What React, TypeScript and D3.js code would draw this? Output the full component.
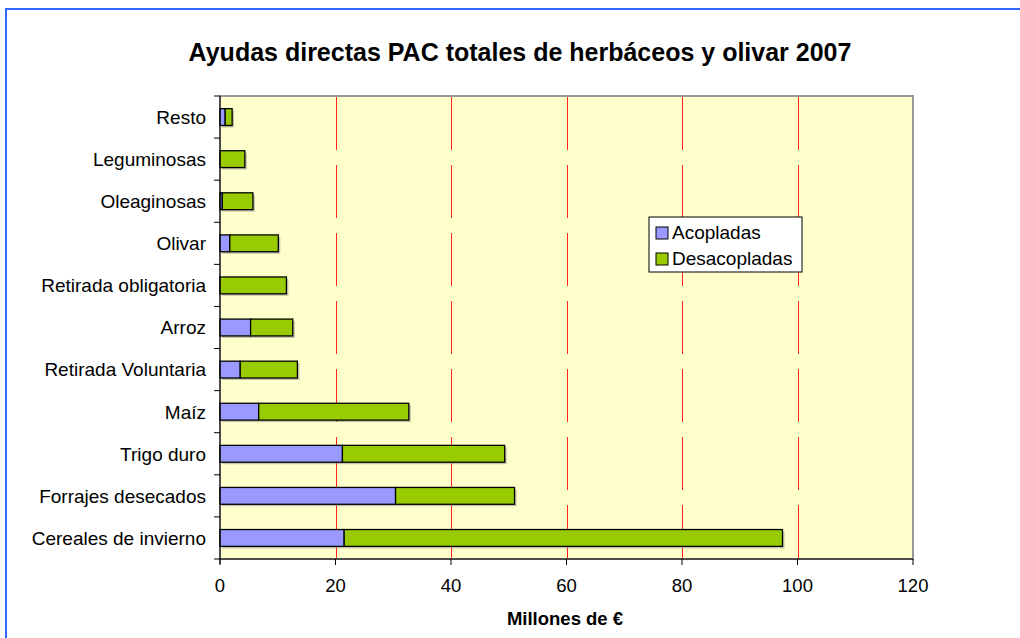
import React, { useEffect, useRef } from 'react';
import * as d3 from 'd3';

// categorias de abajo hacia arriba
const categories = [
  'Cereales de invierno',
  'Forrajes desecados',
  'Trigo duro',
  'Maíz',
  'Retirada Voluntaria ',
  'Arroz',
  'Retirada obligatoria',
  'Olivar',
  'Oleaginosas',
  'Leguminosas',
  'Resto',
];
const acopladas = [21.5, 30.4, 21.2, 6.7, 3.5, 5.3, 0, 1.7, 0.4, 0, 0.9];
const desacopladas = [75.9, 20.6, 28.1, 26.0, 9.9, 7.3, 11.5, 8.4, 5.3, 4.3, 1.2];
const xTicks = [0, 20, 40, 60, 80, 100, 120];
const seriesNames = ['Acopladas', 'Desacopladas'];
const seriesColors = ['#9999FF', '#99CC00'];

const W = 1020;
const H = 638;
const FONT = 'Liberation Sans, Arial, sans-serif';

export default function App() {
  const ref = useRef<SVGSVGElement>(null);

  useEffect(() => {
    const svg = d3.select(ref.current);
    svg.selectAll('*').remove();

    const left = 220, right = 913, top = 96, bottom = 559;

    // marco azul
    svg.append('rect')
      .attr('x', 6).attr('y', 9)
      .attr('width', W).attr('height', H)
      .attr('fill', '#fff')
      .attr('stroke', '#3366FF')
      .attr('stroke-width', 2);

    svg.append('text')
      .attr('x', 520).attr('y', 61)
      .attr('text-anchor', 'middle')
      .attr('font-family', FONT)
      .attr('font-weight', 'bold')
      .attr('font-size', 25)
      .text('Ayudas directas PAC totales de herbáceos y olivar 2007');

    const x = d3.scaleLinear().domain([0, 120]).range([left, right]);
    const y = d3.scaleBand().domain(categories.slice().reverse()).range([top, bottom]).paddingInner(0.6).paddingOuter(0.3);
    const yOuter = d3.scaleBand().domain(categories.slice().reverse()).range([top, bottom]);
    const crisp = (v: number) => Math.round(v) + 0.5;

    // area del grafico
    svg.append('rect')
      .attr('x', left).attr('y', top)
      .attr('width', right - left).attr('height', bottom - top)
      .attr('fill', '#FFFFCC')
      .attr('stroke', '#999')
      .attr('stroke-width', 2);

    // lineas de division
    svg.append('g').selectAll('line')
      .data(xTicks.filter(t => t > 0 && t < 120))
      .enter().append('line')
      .attr('x1', d => crisp(x(d))).attr('x2', d => crisp(x(d)))
      .attr('y1', top + 1).attr('y2', bottom)
      .attr('stroke', '#FF2020')
      .attr('stroke-width', 1)
      .attr('stroke-dasharray', '53,15');

    // barras apiladas
    const stackData = categories.map((c, i) => ({ cat: c, a: acopladas[i], d: desacopladas[i] }));
    const stack = d3.stack<any>().keys(['a', 'd'])(stackData);
    const bh = y.bandwidth();

    stack.forEach((layer) => {
      // sombra
      svg.append('g').selectAll('rect')
        .data(layer.filter(d => d[1] - d[0] > 0))
        .enter().append('rect')
        .attr('x', d => x(d[0]) + 2)
        .attr('y', d => (y(d.data.cat) as number) + 2)
        .attr('width', d => x(d[1]) - x(d[0]))
        .attr('height', bh)
        .attr('fill', '#888')
        .attr('opacity', 0.5);
    });
    stack.forEach((layer, li) => {
      svg.append('g').selectAll('rect')
        .data(layer.filter(d => d[1] - d[0] > 0))
        .enter().append('rect')
        .attr('x', d => x(d[0]))
        .attr('y', d => y(d.data.cat) as number)
        .attr('width', d => x(d[1]) - x(d[0]))
        .attr('height', bh)
        .attr('fill', seriesColors[li])
        .attr('stroke', '#000')
        .attr('stroke-width', 1.3);
    });

    // eje Y
    svg.append('line')
      .attr('x1', left).attr('x2', left)
      .attr('y1', top).attr('y2', bottom + 5)
      .attr('stroke', '#000');
    const bounds = categories.map((c) => (yOuter(c) as number));
    bounds.push(bottom);
    svg.append('g').selectAll('line')
      .data(bounds)
      .enter().append('line')
      .attr('x1', left - 6).attr('x2', left)
      .attr('y1', d => d).attr('y2', d => d)
      .attr('stroke', '#000');

    svg.append('g').selectAll('text')
      .data(categories)
      .enter().append('text')
      .attr('x', 206)
      .attr('y', d => (y(d) as number) + bh / 2)
      .attr('dy', '0.36em')
      .attr('text-anchor', 'end')
      .attr('font-family', FONT)
      .attr('font-size', 19)
      .text(d => d);

    // eje X
    svg.append('line')
      .attr('x1', left).attr('x2', right)
      .attr('y1', bottom).attr('y2', bottom)
      .attr('stroke', '#000');
    svg.append('g').selectAll('line')
      .data(xTicks)
      .enter().append('line')
      .attr('x1', d => x(d)).attr('x2', d => x(d))
      .attr('y1', bottom).attr('y2', bottom + 6)
      .attr('stroke', '#000');
    svg.append('g').selectAll('text')
      .data(xTicks)
      .enter().append('text')
      .attr('x', d => x(d))
      .attr('y', 592)
      .attr('text-anchor', 'middle')
      .attr('font-family', FONT)
      .attr('font-size', 18.5)
      .text(d => d);

    svg.append('text')
      .attr('x', 565).attr('y', 625)
      .attr('text-anchor', 'middle')
      .attr('font-family', FONT)
      .attr('font-weight', 'bold')
      .attr('font-size', 18.5)
      .text('Millones de €');

    // leyenda
    const lg = svg.append('g').attr('transform', 'translate(649,217)');
    lg.append('rect')
      .attr('width', 153).attr('height', 55)
      .attr('fill', '#fff').attr('stroke', '#000');
    seriesNames.forEach((n, i) => {
      lg.append('rect')
        .attr('x', 7).attr('y', 10 + i * 26)
        .attr('width', 12).attr('height', 12)
        .attr('fill', seriesColors[i]).attr('stroke', '#000');
      lg.append('text')
        .attr('x', 23).attr('y', 22 + i * 26)
        .attr('font-family', FONT)
        .attr('font-size', 19)
        .text(n);
    });
  }, []);

  return (
    <svg ref={ref} width={W} height={H} style={{ position: 'absolute', left: 0, top: 0 }} />
  );
}
